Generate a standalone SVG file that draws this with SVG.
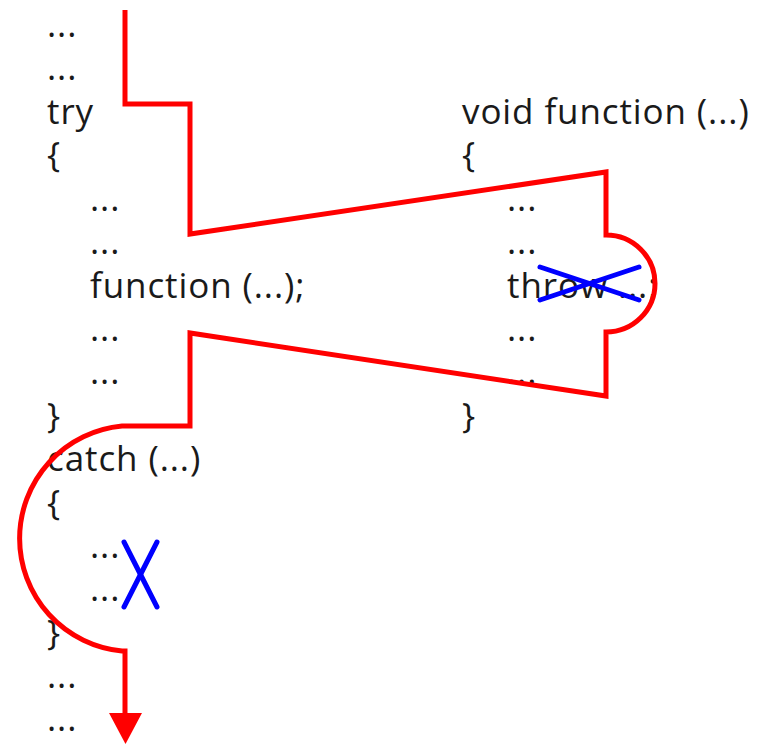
<svg xmlns="http://www.w3.org/2000/svg" width="757" height="744" viewBox="0 0 757 744">
<style>
text{font-family:"Open Sans","Noto Sans","DejaVu Sans",sans-serif;font-size:35px;letter-spacing:0.9px;fill:#1a1a1a}
.red{fill:none;stroke:#ff0000;stroke-width:5;stroke-linejoin:miter}
.blue{stroke:#0000ff;stroke-width:5;stroke-linecap:round}
</style>
<rect width="757" height="744" fill="#ffffff"/>
<g id="code-main">
<text x="47" y="37">...</text>
<text x="47" y="80">...</text>
<text x="47" y="124">try</text>
<text x="47" y="167">{</text>
<text x="90" y="211">...</text>
<text x="90" y="254">...</text>
<text x="90" y="298">function (...);</text>
<text x="90" y="341">...</text>
<text x="90" y="384">...</text>
<text x="47" y="428">}</text>
<text x="47" y="471">catch (...)</text>
<text x="47" y="515">{</text>
<text x="90" y="558">...</text>
<text x="90" y="601">...</text>
<text x="47" y="645">}</text>
<text x="47" y="688">...</text>
<text x="47" y="731">...</text>
</g>
<g id="code-function">
<text x="462" y="124">void function (...)</text>
<text x="462" y="167">{</text>
<text x="507" y="211">...</text>
<text x="507" y="254">...</text>
<text x="507" y="298">throw ...;</text>
<text x="507" y="341">...</text>
<text x="507" y="384">...</text>
<text x="462" y="428">}</text>
</g>
<g id="connectors">
<path class="red" d="M125,10 V104 H190 V234 L606,172 V235 A49,48.5 0 0 1 606,332 V396 L190,333 V426 H122 A113,113 0 0 0 122,651 H125 V716"/>
<polygon points="109,713 142,713 125.5,744" fill="#ff0000"/>
<line class="blue" x1="540" y1="267" x2="639" y2="300"/>
<line class="blue" x1="540" y1="300" x2="639" y2="267"/>
<line class="blue" x1="124" y1="542" x2="157" y2="607"/>
<line class="blue" x1="157" y1="542" x2="124" y2="607"/>
</g>
</svg>
